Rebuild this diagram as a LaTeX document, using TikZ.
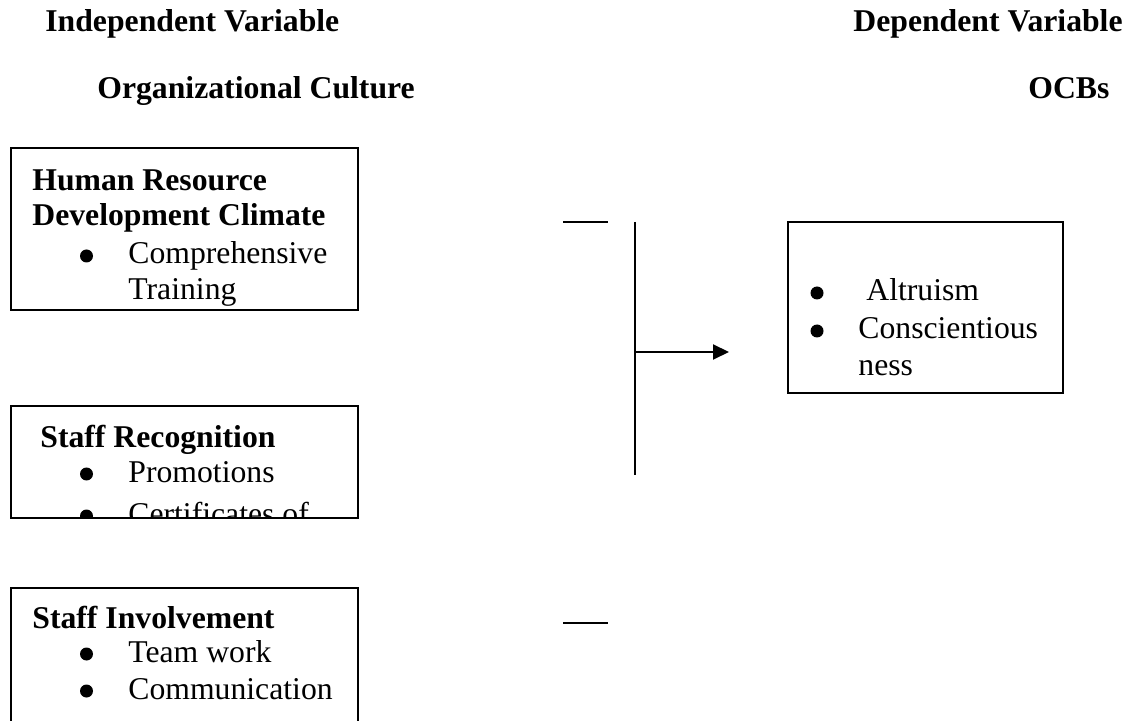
\documentclass[tikz,border=0pt]{standalone}
\usepackage{fontspec}
\setmainfont{Liberation Serif}
\usetikzlibrary{arrows.meta}
\begin{document}
\begin{tikzpicture}[x=0.5pt,y=-0.5pt,
  txt/.style={inner sep=0pt, anchor=base west, font=\fontsize{15.85pt}{17.5pt}\selectfont},
  hd/.style={inner sep=0pt, anchor=base west, font=\fontsize{15.85pt}{17.5pt}\selectfont\bfseries},
  bul/.style={circle, fill=black, inner sep=0pt, minimum size=6.5pt},
  boxline/.style={draw=black, line width=1pt},
  conn/.style={draw=black, line width=1pt}]
\useasboundingbox (0,0) rectangle (1135,721);

% headings
\node[hd] (iv) at (45,32) {Independent Variable};
\node[hd, anchor=base east] (dv) at (1123,32) {Dependent Variable};
\node[hd] (oc) at (97,99) {Organizational Culture};
\node[hd] (ocb) at (1028,99) {OCBs};

% box 1
\coordinate (b1nw) at (11,148);
\coordinate (b1se) at (358,310);
\begin{scope}
\clip (b1nw) rectangle (b1se);
\node[hd] (hr1) at (32,191) {Human Resource};
\node[hd] (hr2) at (32,226) {Development Climate};
\node[bul] (hb1) at (86.5,256) {};
\node[txt] (hi1) at (128,264) {Comprehensive};
\node[txt] (hi2) at (128,300) {Training};
\end{scope}
\draw[boxline] (b1nw) rectangle (b1se);

% box 2
\coordinate (b2nw) at (11,406);
\coordinate (b2se) at (358,518);
\begin{scope}
\clip (b2nw) rectangle (b2se);
\node[hd] (sr) at (40,448) {Staff Recognition};
\node[bul] (sb1) at (86.5,474) {};
\node[txt] (si1) at (128,482) {Promotions};
\node[bul] (sb2) at (86.5,516) {};
\node[txt] (si2) at (128,524) {Certificates of};
\end{scope}
\draw[boxline] (b2nw) rectangle (b2se);

% box 3
\coordinate (b3nw) at (11,588);
\coordinate (b3se) at (358,721);
\node[hd] (si) at (32,628) {Staff Involvement};
\node[bul] (ib1) at (86.5,654) {};
\node[txt] (ii1) at (128,662) {Team work};
\node[bul] (ib2) at (86.5,691) {};
\node[txt] (ii2) at (128,699) {Communication};
\draw[boxline] (b3nw |- b3se) -- (b3nw) -| (b3se);

% right box
\coordinate (rbnw) at (788,222);
\coordinate (rbse) at (1063,393);
\draw[boxline] (rbnw) rectangle (rbse);
\node[bul] (rb1) at (817,293) {};
\node[txt] (ri1) at (866,301) {Altruism};
\node[bul] (rb2) at (817,331) {};
\node[txt] (ri2) at (858,339) {Conscientious};
\node[txt] (ri3) at (858,376) {ness};

% connectors
\coordinate (t1) at (563,222);
\coordinate (t2) at (608,222);
\coordinate (u1) at (563,623);
\coordinate (u2) at (608,623);
\coordinate (vtop) at (635,222);
\coordinate (vbot) at (635,475);
\coordinate (jn) at (635,352);
\coordinate (tip) at (729,352);
\draw[conn] (t1) -- (t2);
\draw[conn] (u1) -- (u2);
\draw[conn] (vtop) -- (vbot);
\draw[conn, -{Triangle[length=8pt,width=7.5pt]}] (jn) -- (tip);
\end{tikzpicture}
\end{document}
